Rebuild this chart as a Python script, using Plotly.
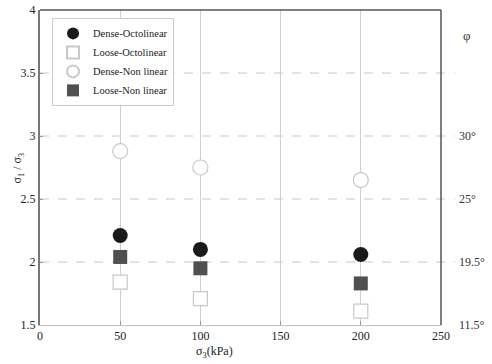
import plotly.graph_objects as go

sigma3 = [50, 100, 200]
dense_octo = [2.21, 2.10, 2.06]
loose_octo = [1.84, 1.71, 1.61]
dense_nonlin = [2.88, 2.75, 2.65]
loose_nonlin = [2.04, 1.95, 1.83]

x_ticks = [0, 50, 100, 150, 200, 250]
y_ticks = [1.5, 2, 2.5, 3, 3.5, 4]
h_grid = [2, 2.5, 3, 3.5]
phi_levels = [1.5, 2, 2.5, 3]
phi_labels = ["11.5°", "19.5°", "25°", "30°"]

FONT = "Liberation Serif"

fig = go.Figure()
fig.add_trace(go.Scatter(x=sigma3, y=dense_octo, mode="markers", name="Dense-Octolinear",
                         marker=dict(symbol="circle", size=15, color="#1a1a1a")))
fig.add_trace(go.Scatter(x=sigma3, y=loose_octo, mode="markers", name="Loose-Octolinear",
                         marker=dict(symbol="square", size=14, color="white",
                                     line=dict(color="#c8c8c8", width=1.2))))
fig.add_trace(go.Scatter(x=sigma3, y=dense_nonlin, mode="markers", name="Dense-Non linear",
                         marker=dict(symbol="circle", size=15, color="white",
                                     line=dict(color="#c8c8c8", width=1.2))))
fig.add_trace(go.Scatter(x=sigma3, y=loose_nonlin, mode="markers", name="Loose-Non linear",
                         marker=dict(symbol="square", size=14, color="#505050")))

shapes = []
for yv in h_grid:
    shapes.append(dict(type="line", xref="paper", yref="y", x0=0, x1=1.035, y0=yv, y1=yv,
                       line=dict(color="#c8c8c8", width=1, dash="dash"), layer="below"))

annotations = []
for yv, lab in zip(phi_levels, phi_labels):
    annotations.append(dict(x=1.04, xref="paper", y=yv, yref="y", text=lab, showarrow=False,
                            xanchor="left", yanchor="middle",
                            font=dict(family=FONT, size=12, color="#333")))
annotations.append(dict(x=1.05, xref="paper", y=3.8, yref="y", text="φ", showarrow=False,
                        xanchor="left", yanchor="middle",
                        font=dict(family=FONT, size=13, color="#333")))
annotations.append(dict(x=-0.055, xref="paper", y=0.5, yref="paper", text="σ<sub>1</sub> / σ<sub>3</sub>",
                        showarrow=False, textangle=-90, xanchor="center", yanchor="middle",
                        font=dict(family=FONT, size=12, color="#222")))
annotations.append(dict(x=0.436, xref="paper", y=-0.055, yref="paper", text="σ<sub>3</sub>(kPa)",
                        showarrow=False, xanchor="center", yanchor="top",
                        font=dict(family=FONT, size=12, color="#222")))

fig.update_layout(
    width=492, height=364,
    margin=dict(l=40, r=51, t=10, b=39),
    paper_bgcolor="white", plot_bgcolor="white",
    font=dict(family=FONT, size=12, color="#222"),
    shapes=shapes, annotations=annotations,
    legend=dict(x=0.03, y=0.975, xanchor="left", yanchor="top",
                bordercolor="#cccccc", borderwidth=1, bgcolor="white",
                font=dict(family=FONT, size=10.5, color="#222"),
                itemsizing="constant", tracegroupgap=0),
    xaxis=dict(range=[0, 250], tickvals=x_ticks, showgrid=True, gridcolor="#cfcfcf", gridwidth=1,
               zeroline=False, showline=True, linecolor="#c0c0c0", linewidth=1, mirror=False,
               ticks="inside", ticklen=4, tickcolor="#999", automargin=False,
               tickfont=dict(family=FONT, size=12, color="#222")),
    yaxis=dict(range=[1.5, 4], tickvals=y_ticks, showgrid=False, zeroline=False,
               showline=True, linecolor="#777", linewidth=2,
               ticks="inside", ticklen=3, tickcolor="#999", automargin=False,
               tickfont=dict(family=FONT, size=12, color="#222")),
)
# top and right frame
fig.add_shape(type="line", xref="paper", yref="paper", x0=0, x1=1, y0=1, y1=1,
              line=dict(color="#555", width=1.5))
fig.add_shape(type="line", xref="paper", yref="paper", x0=1, x1=1, y0=0, y1=1,
              line=dict(color="#555", width=1.5))

# remove the default 8px page margin so the figure fills the window exactly
fig.write_html("out.html", config={"displayModeBar": False},
               post_script="document.body.style.margin='0';")
